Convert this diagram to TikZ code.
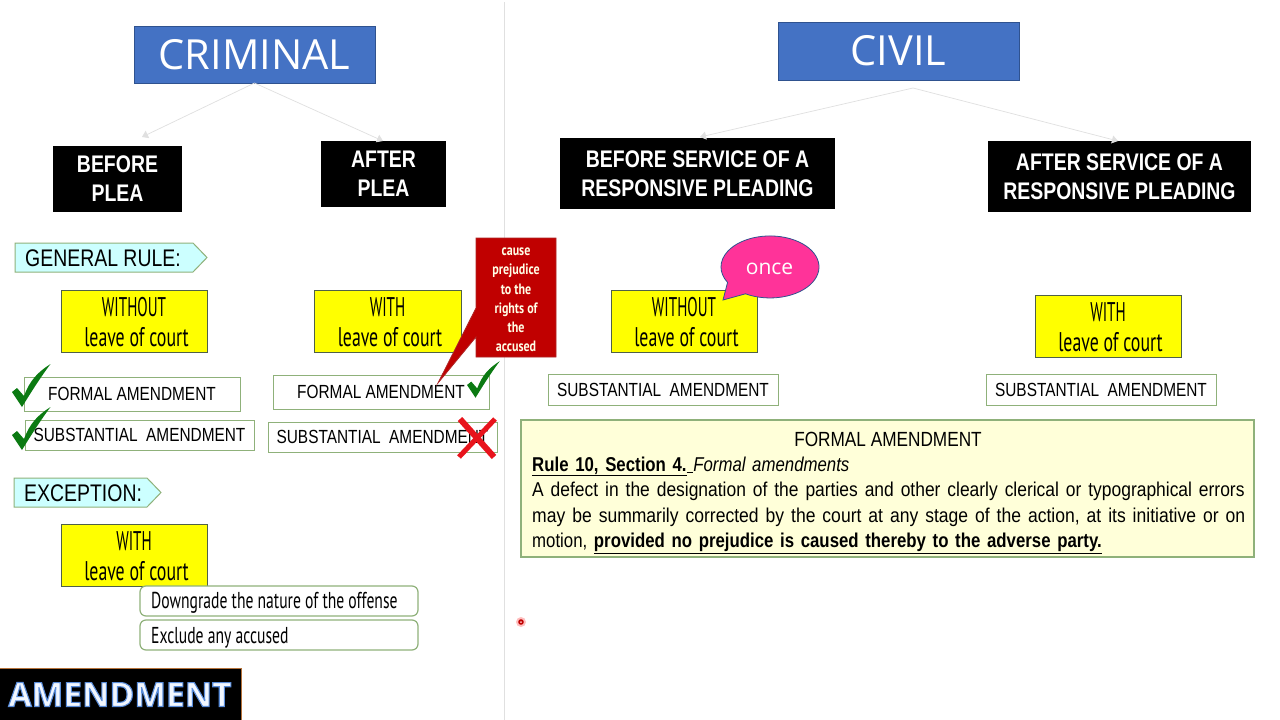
\documentclass[tikz,border=0pt]{standalone}
\usepackage{fontspec}
\usepackage{graphicx}
\setmainfont{Liberation Sans}
\newfontfamily\agency[FakeStretch=0.66]{PT Sans}
\newfontfamily\agencycap[FakeStretch=0.56]{PT Sans}
\newfontfamily\agencyrnd[FakeStretch=0.68]{PT Sans}
\newfontfamily\agencyb[FakeStretch=0.8]{PT Sans}
\newfontfamily\narrow[FakeStretch=0.81]{Liberation Sans}
\newfontfamily\para[FakeStretch=0.84]{Liberation Sans}
\newfontfamily\seg{Open Sans}
\usetikzlibrary{arrows.meta}
\definecolor{hdrblue}{HTML}{4472C4}
\definecolor{hdredge}{HTML}{2F528F}
\definecolor{grn}{HTML}{8FB17A}
\definecolor{paleyel}{HTML}{FFFFD9}
\definecolor{palecy}{HTML}{CCFFFF}
\definecolor{checkg}{HTML}{0B7A12}
\definecolor{darkred}{HTML}{C00000}
\definecolor{pinkb}{HTML}{FF3399}
\definecolor{conn}{HTML}{E0E0E0}
\definecolor{yelfill}{HTML}{FFFF00}
\definecolor{yeledge}{HTML}{4F6148}
\definecolor{crossred}{HTML}{E8141C}
\definecolor{ttledge}{HTML}{B5723A}
\definecolor{ttltext}{HTML}{F2F7FF}
\tikzset{
  base/.style={anchor=north west,inner sep=0pt,outer sep=0pt,align=center},
  hdr/.style={base,fill=hdrblue,draw=hdredge,line width=0.8pt,text=white,font={\seg\fontsize{41.5}{48}\selectfont}},
  blk/.style={base,fill=black,text=white,font={\narrow\bfseries\fontsize{24}{29}\selectfont}},
  yel/.style={base,fill=yelfill,draw=yeledge,line width=1pt,font={\agency\fontsize{27}{30}\selectfont}},
  amd/.style={base,fill=white,draw=grn,line width=1pt,font={\narrow\fontsize{19}{22}\selectfont}},
  rnd/.style={base,fill=white,draw=grn,line width=1.2pt,rounded corners=6pt},
  rndtxt/.style={anchor=west,inner sep=0pt,font={\agencyrnd\fontsize{23}{26}\selectfont}},
  tag/.style={fill=palecy,draw=grn,line width=1pt,line join=miter},
  tagtxt/.style={anchor=west,inner sep=0pt,font={\narrow\fontsize{24}{28}\selectfont}},
  link/.style={draw=conn,line width=0.7pt,-{Triangle[length=6pt,width=8pt]}},
  tick/.style={fill=checkg,draw=none},
}
\newcommand{\boxat}[7]{\node[#6,minimum width={(#4-#2)*1pt},minimum height={(#5-#3)*1pt}] (#1) at (#2,#3) {#7};}
\newcommand{\checkat}[3]{\fill[tick,shift={(#1,#2)},scale=#3] (0,0) -- (5,-4) -- (12,4) .. controls (18,-12) and (26,-20) .. (38.5,-28) .. controls (28,-14) and (18,2) .. (10,15) -- cycle;}
\newcommand{\yl}[1]{\rule{0pt}{21pt}{\agencycap #1}\\\hspace*{5pt}leave of court}
\begin{document}
\begin{tikzpicture}[x=1pt,y=-1pt]
\useasboundingbox (0,0) rectangle (1280,720);
\fill[white] (0,0) rectangle (1280,720);
\draw[conn,line width=0.8pt] (504,2) -- (504,720);

\boxat{crim}{134}{26}{375}{83}{hdr}{CRIMINAL}
\boxat{civ}{778}{22}{1019}{80}{hdr}{CIVIL}
\boxat{bp}{53}{146}{182}{212}{blk}{BEFORE\\PLEA}
\boxat{ap}{321}{141}{446}{207}{blk}{AFTER\\PLEA}
\boxat{bs}{560}{138}{835}{209}{blk}{BEFORE SERVICE OF A\\RESPONSIVE PLEADING}
\boxat{as}{988}{141}{1251}{212}{blk}{AFTER SERVICE OF A\\RESPONSIVE PLEADING}

\coordinate (c1) at (142,137);
\coordinate (c2) at (383,141);
\coordinate (c0) at (913,88);
\coordinate (c3) at (700,137);
\coordinate (c4) at (1118,141);
\draw[link] (crim.south) -- (c1);
\draw[link] (crim.south) -- (c2);
\draw[link] (c0) -- (c3);
\draw[link] (c0) -- (c4);

\draw[tag] (15,243) -- (193,243) -- (207,257.5) -- (193,272) -- (15,272) -- cycle;
\node[tagtxt] (gr) at (25,258) {GENERAL RULE:};
\draw[tag] (14,478) -- (147,478) -- (161,492.5) -- (147,507) -- (14,507) -- cycle;
\node[tagtxt] (ex) at (24,493) {EXCEPTION:};

\boxat{y1}{61}{290}{207}{352}{yel}{\yl{WITHOUT}}
\boxat{y2}{314}{290}{461}{352}{yel}{\yl{WITH}}
\boxat{y3}{611}{290}{757}{352}{yel}{\yl{WITHOUT}}
\boxat{y4}{1035}{295}{1181}{357}{yel}{\yl{WITH}}
\boxat{y5}{61}{524}{207}{586}{yel}{\yl{WITH}}

\boxat{a1}{24}{377}{240}{411}{amd}{FORMAL AMENDMENT}
\boxat{a2}{25}{420}{254}{450}{amd}{SUBSTANTIAL\ \ AMENDMENT}
\boxat{a3}{273}{375}{489}{409}{amd}{FORMAL AMENDMENT}
\boxat{a4}{268}{422}{497}{452}{amd}{SUBSTANTIAL\ \ AMENDMENT}
\boxat{a5}{548}{374}{778}{405}{amd}{SUBSTANTIAL\ \ AMENDMENT}
\boxat{a6}{986}{374}{1216}{405}{amd}{SUBSTANTIAL\ \ AMENDMENT}

\boxat{r1}{140}{586}{418}{616}{rnd}{}
\node[rndtxt] (r1t) at (151,603) {Downgrade the nature of the offense};
\boxat{r2}{140}{620}{418}{650}{rnd}{}
\node[rndtxt] (r2t) at (151,638) {Exclude any accused};

% big rule box
\fill[paleyel,draw=grn,line width=1.2pt] (521,420) rectangle (1254,557);
\node[inner sep=0pt,font={\para\fontsize{20.5}{24}\selectfont}] (ft) at (888,439) {FORMAL AMENDMENT};
\node[anchor=north west,inner sep=0pt,text width=790pt,align=left,font={\para\fontsize{20}{25.5}\selectfont}] (rule) at (532,456.5) {\underline{\bfseries Rule 10, Section 4.}\underline{\ }\textit{Formal amendments}\\
\scalebox{1.038}[1]{A defect in the designation of the parties and other clearly clerical or typographical errors}\\
\scalebox{1.044}[1]{may be summarily corrected by the court at any stage of the action, at its initiative or on}\\
motion, \underline{\bfseries provided no prejudice is caused thereby to the adverse party.}};

% red callout
\fill[darkred,draw=darkred!70!gray,line width=0.8pt] (476,238) -- (556,238) -- (556,357) -- (476,357) -- (476,337) -- (438,383) -- (476,308) -- cycle;
\node[inner sep=0pt,align=center,text=white!90!yellow,font={\agencyb\bfseries\fontsize{15}{19.2}\selectfont}] (rt) at (516,300) {cause\\prejudice\\to the\\rights of\\the\\accused};

% pink callout
\fill[pinkb,draw=hdredge,line width=0.8pt] (723,300) -- (745.5,293.8) arc [start angle=-120,end angle=210,x radius=49pt,y radius=31pt] -- cycle;
\node[inner sep=0pt,text=white,font={\seg\fontsize{21}{24}\selectfont}] (once) at (769.5,269) {once};

% marks
\checkat{12}{392}{1}
\checkat{12}{435}{1}
\checkat{467}{385}{0.85}
\draw[line width=6pt,draw=crossred] (460,419) -- (494,457);
\draw[line width=5pt,draw=crossred] (495,419) -- (459,457);

% pointer dot
\fill[red!25] (521,622) circle (5);
\fill[darkred] (521,622) circle (2.8);
\fill[white!80!red] (521,622) circle (1);

% title
\boxat{am}{-1}{668}{241}{721}{base,fill=black,draw=ttledge,line width=1pt,text=ttltext,font={\seg\bfseries\fontsize{33.6}{40}\selectfont}}{\special{pdf:code 2 Tr 1.1 w 0.35 0.55 0.85 RG}AMENDMENT\special{pdf:code 0 Tr}}
\end{tikzpicture}
\end{document}
